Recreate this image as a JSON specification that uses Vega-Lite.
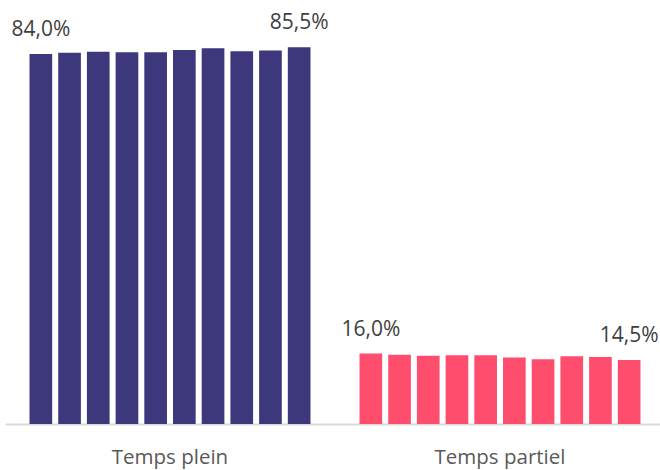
{
  "$schema": "https://vega.github.io/schema/vega-lite/v6.json",
  "width": 660,
  "height": 424,
  "autosize": "none",
  "padding": {"left": 5, "top": 0, "right": 0, "bottom": 46},
  "background": "white",
  "config": {"view": {"stroke": null}},
  "data": {
    "values": [
      {"group": "Temps plein", "idx": 1, "value": 84.0, "label": "84,0%"},
      {"group": "Temps plein", "idx": 2, "value": 84.3, "label": ""},
      {"group": "Temps plein", "idx": 3, "value": 84.5, "label": ""},
      {"group": "Temps plein", "idx": 4, "value": 84.4, "label": ""},
      {"group": "Temps plein", "idx": 5, "value": 84.4, "label": ""},
      {"group": "Temps plein", "idx": 6, "value": 84.9, "label": ""},
      {"group": "Temps plein", "idx": 7, "value": 85.3, "label": ""},
      {"group": "Temps plein", "idx": 8, "value": 84.6, "label": ""},
      {"group": "Temps plein", "idx": 9, "value": 84.8, "label": ""},
      {"group": "Temps plein", "idx": 10, "value": 85.5, "label": "85,5%"},
      {"group": "Temps partiel", "idx": 1, "value": 16.0, "label": "16,0%"},
      {"group": "Temps partiel", "idx": 2, "value": 15.7, "label": ""},
      {"group": "Temps partiel", "idx": 3, "value": 15.5, "label": ""},
      {"group": "Temps partiel", "idx": 4, "value": 15.6, "label": ""},
      {"group": "Temps partiel", "idx": 5, "value": 15.6, "label": ""},
      {"group": "Temps partiel", "idx": 6, "value": 15.1, "label": ""},
      {"group": "Temps partiel", "idx": 7, "value": 14.7, "label": ""},
      {"group": "Temps partiel", "idx": 8, "value": 15.4, "label": ""},
      {"group": "Temps partiel", "idx": 9, "value": 15.2, "label": ""},
      {"group": "Temps partiel", "idx": 10, "value": 14.5, "label": "14,5%"}
    ]
  },
  "encoding": {
    "x": {
      "field": "group",
      "type": "nominal",
      "sort": ["Temps plein", "Temps partiel"],
      "scale": {"paddingInner": 0, "paddingOuter": 0},
      "axis": {
        "title": null,
        "labelAngle": 0,
        "domainColor": "#d9d9d9",
        "domainWidth": 2,
        "ticks": false,
        "tickSize": 0,
        "labelFont": "Open Sans",
        "labelFontSize": 20.5,
        "labelColor": "#595959",
        "labelBaseline": "alphabetic",
        "labelPadding": 39
      }
    },
    "xOffset": {
      "field": "idx",
      "type": "ordinal",
      "scale": {"paddingInner": 0.21, "paddingOuter": 0.854}
    },
    "y": {
      "field": "value",
      "type": "quantitative",
      "scale": {"domain": [0, 96.25], "nice": false, "zero": true},
      "axis": null
    }
  },
  "layer": [
    {
      "mark": {"type": "bar"},
      "encoding": {
        "color": {
          "field": "group",
          "type": "nominal",
          "scale": {"domain": ["Temps plein", "Temps partiel"], "range": ["#3D387C", "#FF4D6D"]},
          "legend": null
        }
      }
    },
    {
      "transform": [{"filter": "datum.label != ''"}],
      "mark": {
        "type": "text",
        "baseline": "alphabetic",
        "align": "center",
        "dy": -18,
        "font": "Open Sans",
        "fontSize": 21,
        "color": "#404040"
      },
      "encoding": {"text": {"field": "label", "type": "nominal"}}
    }
  ]
}
